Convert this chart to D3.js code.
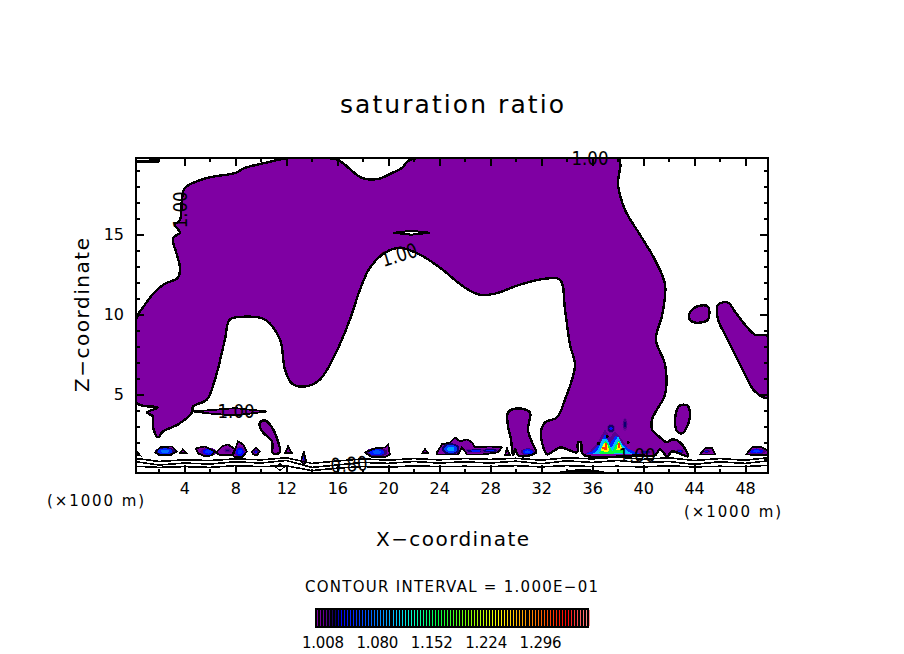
<!DOCTYPE html>
<html>
<head>
<meta charset="utf-8">
<title>saturation ratio</title>
<script src="https://cdn.jsdelivr.net/npm/d3@7/dist/d3.min.js"></script>
<style>
  html, body { margin: 0; padding: 0; background: #fff; }
  svg { display: block; }
  text { font-family: "DejaVu Sans", sans-serif; fill: #000; }
</style>
</head>
<body>
<svg id="chart" width="904" height="654"></svg>
<script>
// ── Data (x and z in km, saturation ratio for the levels) ──
var mainCloud = [[0.2,9.68],[0.9,10.61],[1.69,11.42],[2.47,11.92],[3.49,12.29],[3.65,12.92],[3.41,13.73],[3.1,14.78],
  [3.65,15.1],[3.26,15.6],[3.65,15.9],[3.81,17.15],[4.04,17.9],[5.77,18.52],[7.97,18.83],[8.75,19.15],[10.32,19.46],
  [11.34,19.65],[12.13,19.77],[15.03,19.77],[16.05,19.65],[17.94,18.52],[19.19,18.46],[20.29,18.83],[21.08,19.15],
  [21.55,19.58],[22.33,19.77],[30,19.8],[38.03,19.8],[38.03,18.09],[38.58,16.53],[39.76,14.97],[40.93,13.41],[41.72,11.86],
  [41.5,9.99],[41.0,8.43],[41.72,6.87],[41.72,5.0],[41.09,4.07],[40.7,3.45],[40.7,2.82],[41.33,2.32],[41.88,2.01],
  [42.27,2.2],[42.9,2.01],[43.52,1.14],[42.27,1.45],[41.88,1.14],[41.33,1.58],[40.93,1.2],[39.76,1.2],[35.28,1.26],
  [35.12,2.01],[34.89,2.01],[34.81,1.39],[34.03,1.58],[33.48,1.7],[32.93,1.45],[32.46,1.26],[32.06,2.01],[31.98,2.64],
  [32.3,3.26],[33.24,3.57],[33.87,4.69],[34.42,5.94],[34.65,6.87],[34.26,8.12],[33.87,10.3],[33.48,12.17],[32.3,12.23],
  [30.34,11.86],[28.38,11.3],[27.2,11.23],[26.02,11.67],[24.06,12.92],[22.49,13.73],[20.92,14.16],[19.74,13.85],
  [18.56,12.92],[17.78,11.55],[16.99,9.68],[15.82,7.5],[14.64,5.94],[13.46,5.5],[12.44,5.69],[11.89,6.56],[11.5,8.43],
  [10.32,9.68],[8.75,9.86],[7.57,9.68],[7.18,8.43],[6.4,5.94],[5.77,4.69],[4.67,4.25],[4.59,3.88],[3.49,3.13],[2.32,2.7],
  [1.92,2.32],[1.53,3.01],[1.53,3.63],[1.06,3.88],[1.92,4.19],[0.2,4.5]];

var rightBlob = [[43.6,9.8],[43.84,10.3],[44.46,10.55],[45.09,10.49],[45.09,9.68],[44.46,9.49],[43.84,9.55]];
var edgeBlob = [[45.88,10.61],[46.66,10.74],[47.21,10.18],[48,9.36],[48.78,8.74],[49.8,8.62],[49.8,4.82],[48.78,5.19],
  [48,6.25],[47.21,7.5],[46.43,8.74],[45.88,9.68]];
var lowRightBlob = [[42.5,3.45],[42.66,4.07],[42.9,4.32],[43.45,4.32],[43.68,3.88],[43.52,3.13],[43.05,2.57],[42.66,2.7],[42.5,3.13]];
var towerBlob = [[29.4,3.88],[30.18,4.13],[31.12,3.88],[30.96,2.82],[31.28,2.01],[31.59,1.39],[31.12,1.2],[30.18,1.2],
  [29.95,1.58],[29.79,1.2],[29.63,2.2],[29.4,3.01]];
var hookBlob = [[9.93,3.26],[10.32,3.38],[10.87,2.95],[11.34,2.07],[11.5,1.39],[10.95,1.33],[10.87,2.07],[10.16,2.64],[9.93,2.95]];
var sliverBlob = [[4.67,3.94],[6.4,4.05],[8,4.15],[10.48,3.94],[8,3.7],[6.4,3.78]];

var lowBlobs = [
  [[1.69,1.39],[2.08,1.7],[3.02,1.76],[3.41,1.45],[2.87,1.2],[2.08,1.2]],
  [[3.65,1.33],[3.89,1.58],[4.2,1.33]],
  [[4.91,1.64],[5.61,1.76],[6.4,1.45],[6.16,1.2],[5.61,1.14],[5.06,1.33]],
  [[6.48,1.39],[6.95,1.76],[7.42,1.89],[7.97,1.58],[7.73,1.2],[6.79,1.2]],
  [[7.81,1.2],[8.12,1.89],[8.2,2.07],[8.59,1.89],[8.91,1.45],[8.52,1.08],[7.97,1.08]],
  [[9.3,1.45],[9.62,1.7],[9.93,1.45],[9.69,1.2],[9.38,1.26]],
  [[11.89,1.33],[12.13,1.76],[12.44,1.33]],
  [[13.15,0.83],[13.38,1.45],[13.54,0.83],[13.38,0.64]],
  [[18.17,1.39],[18.96,1.64],[19.74,1.7],[19.98,1.89],[20.13,1.26],[19.74,1.08],[18.72,1.08]],
  [[22.65,1.33],[22.88,1.58],[23.12,1.33]],
  [[23.82,1.39],[24.21,1.89],[24.84,2.01],[25.24,2.32],[25.63,2.07],[26.18,2.2],[26.57,2.01],[26.81,1.7],[27.98,1.76],
   [28.92,1.7],[28.61,1.39],[27.43,1.26],[26.18,1.26],[25.78,1.7],[25.47,1.26],[23.82,1.26]],
  [[29.16,1.2],[29.32,1.64],[29.55,1.2]],
  [[44.47,1.26],[44.86,1.64],[45.41,1.64],[45.64,1.26]],
  [[48.08,1.26],[48.55,1.7],[49.33,1.7],[49.8,1.51],[49.8,1.2]],
  [[0.2,1.26],[0.35,1.39],[0.51,1.2]]
];

// hole in the cloud near z = 15 and the thin sheet in the top left corner
var cloudHole = [[20.4,15.1],[21.8,15.22],[23.3,15.1],[21.8,14.98]];
var cornerSheet = [[0.2,19.6],[1.9,19.62],[1.9,19.52],[0.2,19.5]];

// moist cores: centre, half widths, peak level
var coreX    = [2.47, 5.9, 8.35, 7.4, 9.62, 13.38, 19.1, 24.9, 26.9, 28, 30.95, 42.9, 40.2, 45, 48.9, 37.48, 38.58];
var coreZ    = [1.45, 1.42, 1.42, 1.5, 1.43, 1.0, 1.4, 1.6, 1.48, 1.5, 1.42, 1.45, 1.4, 1.45, 1.45, 2.88, 3.13];
var coreRx   = [0.8, 0.65, 0.42, 0.35, 0.22, 0.12, 0.85, 0.7, 1.0, 0.8, 0.55, 0.35, 0.5, 0.32, 0.75, 0.35, 0.2];
var coreRz   = [0.26, 0.26, 0.34, 0.15, 0.17, 0.3, 0.28, 0.36, 0.14, 0.14, 0.22, 0.15, 0.12, 0.12, 0.18, 0.3, 0.45];
var corePeak = [1.075, 1.05, 1.05, 1.022, 1.03, 1.03, 1.065, 1.09, 1.04, 1.04, 1.06, 1.03, 1.028, 1.03, 1.055, 1.035, 1.024];
var coreShells = [[1, 0.25], [0.72, 0.6], [0.4, 1]];

// the strong updraft near x = 37 km, nested from weak to strong
var hotLevels = [1.012, 1.045, 1.1, 1.16, 1.24, 1.24, 1.31, 1.31];
var hotShapes = [
  [[35.28,1.26],[35.83,1.45],[36.46,2.07],[37.01,2.82],[37.4,2.32],[37.8,2.7],[38.34,2.2],[38.97,1.45],[40.54,1.26]],
  [[35.44,1.26],[35.99,1.45],[36.62,1.95],[37.01,2.51],[37.4,1.95],[37.87,2.45],[38.34,1.95],[38.97,1.55],[39.9,1.26]],
  [[35.99,1.26],[36.4,1.5],[36.8,2.2],[37.17,2.26],[37.48,1.64],[37.8,2.1],[38.03,2.4],[38.34,1.89],[38.8,1.45],[39.3,1.26]],
  [[36.46,1.32],[36.77,1.58],[37.01,2.14],[37.24,1.95],[37.56,1.45],[37.87,1.89],[38.11,2.14],[38.34,1.7],[38.5,1.39],[37.56,1.3]],
  [[36.65,1.51],[36.95,2.0],[37.2,1.89],[37.35,1.45],[37.01,1.42]],
  [[37.9,1.55],[38.05,2.07],[38.28,1.82],[38.36,1.55]],
  [[36.76,1.58],[37.2,1.55],[37.2,1.95],[37.03,1.95],[37.03,1.76],[36.76,1.72]],
  [[38.0,1.64],[38.22,1.64],[38.22,1.95],[38.05,1.95]]
];
var speckX = [37.17, 38.82, 36.5];
var speckZ = [2.38, 2.0, 1.95];

// shallow contours below the cloud, all on one x grid
var lineX = [0.2, 2, 4, 6, 8, 10, 12, 14, 16, 18, 20, 22, 24, 26, 28, 30, 32, 34, 36, 38, 40, 42, 44, 46, 48, 49.8];
var line1 = [1.02, 0.82, 0.92, 0.88, 0.98, 0.92, 1.05, 0.7, 0.85, 0.98, 0.9, 1.0, 0.92, 1.0, 0.95, 1.02, 0.9, 1.05, 0.98, 1.1, 0.95, 1.05, 0.88, 1.0, 0.9, 1.05];
var line2 = [0.8, 0.6, 0.72, 0.66, 0.8, 0.72, 0.88, 0.45, 0.6, 0.76, 0.7, 0.82, 0.72, 0.8, 0.72, 0.84, 0.68, 0.86, 0.76, 0.88, 0.74, 0.82, 0.64, 0.8, 0.7, 0.86];
var line3 = [0.52, 0.45, 0.5, 0.45, 0.56, 0.5, 0.55, 0.25, 0.4, 0.5, 0.46, 0.55, 0.5, 0.52, 0.5, 0.56, 0.48, 0.56, 0.5, 0.52, 0.48, 0.55, 0.48, 0.52, 0.5, 0.58];
var surfaceBlob = [[33.24,0.14],[34.2,0.28],[35.2,0.34],[36.2,0.3],[37.17,0.14]];
var diamondLoop = [[11.18,0.45],[11.5,0.7],[11.81,0.45],[11.5,0.27]];

// contour labels
var labelText  = ['1.00', '1.00', '1.00', '1.00', '1.00', '0.80'];
var labelX     = [8.05, 20.84, 35.83, 39.52, 3.65, 16.92];
var labelZ     = [4.0, 13.73, 19.77, 1.26, 16.53, 0.64];
var labelAngle = [0, -17, 0, 0, -90, -4];

// axes
var xMajor = [4, 8, 12, 16, 20, 24, 28, 32, 36, 40, 44, 48];
var xMinor = [2, 6, 10, 14, 18, 22, 26, 30, 34, 38, 42, 46];
var zMajor = [5, 10, 15];
var zMinor = [1, 2, 3, 4, 6, 7, 8, 9, 11, 12, 13, 14, 16, 17, 18, 19];

// colour bar
var barTicks = [1.008, 1.080, 1.152, 1.224, 1.296];
var barStep = 0.004;
var colorLevels = [1.0, 1.012, 1.02, 1.026, 1.03, 1.07, 1.105, 1.125, 1.16, 1.2, 1.24, 1.28, 1.33, 1.345, 1.36];
var colorValues = ['#7f00a3', '#5a0090', '#1a0060', '#00007a', '#0000ff', '#0060ff', '#00ccff', '#00ffcc',
  '#00ff40', '#80ff00', '#ffff00', '#ff9000', '#ff0000', '#ff5050', '#ff9090'];

// ── Scales ─────────────────────────────────────────────
var svg = d3.select('#chart');
var left = 136, right = 768, top_ = 157.5, bottom = 473;
var x = d3.scaleLinear().domain([0.2, 49.8]).range([left, right]);
var z = d3.scaleLinear().domain([0.1, 19.8]).range([bottom, top_]);
var color = d3.scaleLinear().domain(colorLevels).range(colorValues);
var cloudColor = color(1.0);

var outline = d3.line()
  .x(function (d) { return x(d[0]); })
  .y(function (d) { return z(d[1]); })
  .curve(d3.curveCatmullRomClosed.alpha(0.5));
var sharpOutline = d3.line()
  .x(function (d) { return x(d[0]); })
  .y(function (d) { return z(d[1]); })
  .curve(d3.curveLinearClosed);
var openLine = d3.line()
  .x(function (d) { return x(d[0]); })
  .y(function (d) { return z(d[1]); });

svg.append('defs').append('clipPath').attr('id', 'plot-clip')
  .append('rect')
  .attr('x', left).attr('y', top_)
  .attr('width', right - left).attr('height', bottom - top_);

var plot = svg.append('g')
  .attr('clip-path', 'url(#plot-clip)')
  .attr('shape-rendering', 'crispEdges');

// ── Cloud ──────────────────────────────────────────────
var bigShapes = [mainCloud, rightBlob, edgeBlob, lowRightBlob, towerBlob, hookBlob];
var smallShapes = [sliverBlob].concat(lowBlobs);

plot.append('g').selectAll('path')
  .data(bigShapes)
  .enter().append('path')
  .attr('d', outline)
  .attr('fill', cloudColor);

plot.append('g').selectAll('path')
  .data(smallShapes)
  .enter().append('path')
  .attr('d', sharpOutline)
  .attr('fill', cloudColor);

// cores, three shells each
var shellData = [];
coreX.forEach(function (cx, i) {
  coreShells.forEach(function (s) {
    shellData.push({
      x: cx, z: coreZ[i], rx: coreRx[i] * s[0], rz: coreRz[i] * s[0],
      level: 1.0 + (corePeak[i] - 1.0) * s[1]
    });
  });
});

plot.append('g').selectAll('ellipse')
  .data(shellData)
  .enter().append('ellipse')
  .attr('cx', function (d) { return x(d.x); })
  .attr('cy', function (d) { return z(d.z); })
  .attr('rx', function (d) { return Math.abs(x(d.rx) - x(0)); })
  .attr('ry', function (d) { return Math.abs(z(d.rz) - z(0)); })
  .attr('fill', function (d) { return color(d.level); });

plot.append('g').selectAll('path')
  .data(hotShapes)
  .enter().append('path')
  .attr('d', sharpOutline)
  .attr('fill', function (d, i) { return color(hotLevels[i]); });

plot.append('g').selectAll('circle')
  .data(speckX)
  .enter().append('circle')
  .attr('cx', function (d) { return x(d); })
  .attr('cy', function (d, i) { return z(speckZ[i]); })
  .attr('r', 1.5)
  .attr('fill', '#000');

// outlines go on top of the cores
plot.append('g').selectAll('path')
  .data(bigShapes)
  .enter().append('path')
  .attr('d', outline)
  .attr('fill', 'none')
  .attr('stroke', '#000')
  .attr('stroke-width', 2.4);

plot.append('g').selectAll('path')
  .data(smallShapes)
  .enter().append('path')
  .attr('d', sharpOutline)
  .attr('fill', 'none')
  .attr('stroke', '#000')
  .attr('stroke-width', 1.8);

plot.append('g').selectAll('path')
  .data([cloudHole, cornerSheet, diamondLoop])
  .enter().append('path')
  .attr('d', sharpOutline)
  .attr('fill', '#fff')
  .attr('stroke', '#000')
  .attr('stroke-width', function (d, i) { return i === 2 ? 1 : 2; });

// ── Shallow contours ───────────────────────────────────
plot.append('g').selectAll('path')
  .data([line1, line2, line3])
  .enter().append('path')
  .attr('d', function (d) {
    return openLine(d.map(function (v, i) { return [lineX[i], v]; }));
  })
  .attr('fill', 'none')
  .attr('stroke', '#000')
  .attr('stroke-width', 1.6);

plot.append('path')
  .attr('d', outline(surfaceBlob))
  .attr('fill', '#000');

// ── Axes ───────────────────────────────────────────────
function addAxis(axis, tx, ty) {
  var g = svg.append('g')
    .attr('transform', 'translate(' + tx + ',' + ty + ')')
    .call(axis);
  g.select('.domain').remove();
  g.selectAll('line').attr('stroke', '#000').attr('stroke-width', 2).attr('shape-rendering', 'crispEdges');
  g.selectAll('text').attr('fill', '#000').style('font-size', '16px').style('font-family', '"DejaVu Sans", sans-serif');
  return g;
}

function noLabel() { return ''; }

addAxis(d3.axisBottom(x).tickValues(xMajor).tickSize(-8).tickPadding(10).tickFormat(d3.format('d')), 0, bottom);
addAxis(d3.axisBottom(x).tickValues(xMinor).tickSize(-4).tickFormat(noLabel), 0, bottom);
addAxis(d3.axisTop(x).tickValues(xMajor).tickSize(-8).tickFormat(noLabel), 0, top_);
addAxis(d3.axisTop(x).tickValues(xMinor).tickSize(-4).tickFormat(noLabel), 0, top_);
addAxis(d3.axisLeft(z).tickValues(zMajor).tickSize(-8).tickPadding(12).tickFormat(d3.format('d')), left, 0);
addAxis(d3.axisLeft(z).tickValues(zMinor).tickSize(-4).tickFormat(noLabel), left, 0);
addAxis(d3.axisRight(z).tickValues(zMajor).tickSize(-8).tickFormat(noLabel), right, 0);
addAxis(d3.axisRight(z).tickValues(zMinor).tickSize(-4).tickFormat(noLabel), right, 0);

svg.append('rect')
  .attr('x', left).attr('y', top_)
  .attr('width', right - left).attr('height', bottom - top_)
  .attr('fill', 'none')
  .attr('stroke', '#000')
  .attr('stroke-width', 2)
  .attr('shape-rendering', 'crispEdges');

// contour labels
svg.append('g').selectAll('text')
  .data(labelText)
  .enter().append('text')
  .attr('transform', function (d, i) {
    return 'translate(' + x(labelX[i]) + ',' + z(labelZ[i]) + ') rotate(' + labelAngle[i] + ')';
  })
  .attr('text-anchor', 'middle')
  .attr('dy', '0.36em')
  .attr('textLength', 37)
  .attr('lengthAdjust', 'spacingAndGlyphs')
  .style('font-size', '20px')
  .text(function (d) { return d; });

// ── Titles ─────────────────────────────────────────────
function addText(label, px, py, size, width, angle) {
  var t = svg.append('text')
    .attr('text-anchor', 'middle')
    .attr('textLength', width)
    .attr('lengthAdjust', 'spacing')
    .style('font-size', size + 'px')
    .text(label);
  t.attr('transform', 'translate(' + px + ',' + py + ')' + (angle ? ' rotate(' + angle + ')' : ''));
  return t;
}

addText('saturation ratio', 452, 113, 25, 224);
addText('X\u2212coordinate', 452.5, 546, 20, 153);
addText('Z\u2212coordinate', 89, 315, 20, 154, -90);
addText('(\u00d71000 m)', 95.5, 506, 15, 97);
addText('(\u00d71000 m)', 732.5, 517, 15, 97);
addText('CONTOUR INTERVAL = 1.000E\u221201', 451.5, 592, 15, 293);

// ── Colour bar ─────────────────────────────────────────
var barX = d3.scaleLinear().domain([1.008, 1.296]).range([323, 540.6]);
var barLevels = d3.range(1.0, 1.36, barStep);

svg.append('rect')
  .attr('x', 316).attr('y', 609)
  .attr('width', 272).attr('height', 18)
  .attr('fill', '#000')
  .attr('stroke', '#000')
  .attr('stroke-width', 2);

svg.append('g')
  .attr('shape-rendering', 'crispEdges')
  .selectAll('line')
  .data(barLevels)
  .enter().append('line')
  .attr('x1', function (d) { return barX(d) + 0.5; })
  .attr('x2', function (d) { return barX(d) + 0.5; })
  .attr('y1', 610)
  .attr('y2', 626)
  .attr('stroke', function (d) { return color(d); })
  .attr('stroke-width', 1);

svg.append('g').selectAll('text')
  .data(barTicks)
  .enter().append('text')
  .attr('x', function (d) { return barX(d); })
  .attr('y', 648)
  .attr('text-anchor', 'middle')
  .attr('textLength', 42)
  .style('font-size', '15px')
  .text(d3.format('.3f'));
</script>
</body>
</html>
